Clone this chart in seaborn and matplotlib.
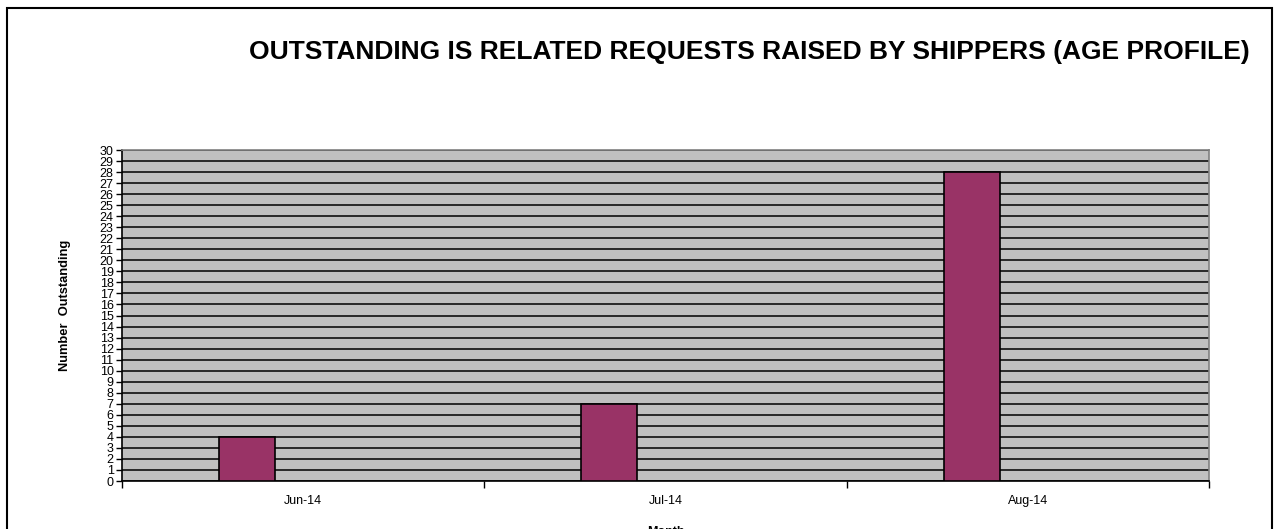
import pandas as pd
import matplotlib
matplotlib.use('Agg')
import matplotlib.pyplot as plt
import seaborn as sns
from matplotlib.patches import Rectangle
from matplotlib.ticker import MultipleLocator, FixedLocator

# data
months = ['Jun-14', 'Jul-14', 'Aug-14']
outstanding = [4, 7, 28]
# excel layout had three series slots per month, only the first one filled
series_names = ['Outstanding', 'Series 2', 'Series 3']
empty = [0, 0, 0]

df = pd.DataFrame({
    'Month': months * 3,
    'Number': outstanding + empty + empty,
    'Series': [series_names[0]] * 3 + [series_names[1]] * 3 + [series_names[2]] * 3,
})

sns.set_style('white')
plt.rcParams['font.family'] = ['Liberation Sans', 'DejaVu Sans']
plt.rcParams['text.color'] = 'black'
plt.rcParams['axes.labelcolor'] = 'black'
plt.rcParams['xtick.color'] = 'black'
plt.rcParams['ytick.color'] = 'black'

fig = plt.figure(figsize=(12.77, 5.29), dpi=100)
ax = fig.add_axes([0.0955, 0.0907, 0.8513, 0.6257])
ax.set_facecolor('#C0C0C0')

sns.barplot(data=df, x='Month', y='Number', hue='Series', ax=ax,
            palette=['#993366', '#C0C0C0', '#C0C0C0'], width=0.465, saturation=1,
            edgecolor='black', linewidth=1.2, legend=False, zorder=3)
# hide the empty slots' outlines
for cont in ax.containers[1:]:
    for bar in cont:
        bar.set_linewidth(0)

ax.set_ylim(0, 30)
ax.set_xlim(-0.5, 2.5)
ax.yaxis.set_major_locator(MultipleLocator(1))
ax.grid(axis='y', color='black', linewidth=1.1, zorder=1)
ax.set_axisbelow(True)

# category ticks sit on the boundaries, labels in the middle
ax.xaxis.set_major_locator(FixedLocator([-0.5, 0.5, 1.5, 2.5]))
ax.set_xticklabels([])
ax.xaxis.set_minor_locator(FixedLocator([0, 1, 2]))
ax.set_xticklabels(months, minor=True)
ax.tick_params(axis='x', which='major', direction='out', length=5, width=1, bottom=True)
ax.tick_params(axis='x', which='minor', length=0, pad=10, labelsize=9)
ax.tick_params(axis='y', direction='out', length=4, width=1, left=True, labelsize=9, pad=2)

for side in ['left', 'bottom']:
    ax.spines[side].set_color('black')
    ax.spines[side].set_linewidth(1.2)
for side in ['top', 'right']:
    ax.spines[side].set_color('#808080')
    ax.spines[side].set_linewidth(1.2)

ax.set_xlabel('Month', fontsize=9, fontweight='bold')
ax.xaxis.set_label_coords(0.5, -0.135)
ax.set_ylabel('Number  Outstanding', fontsize=9.3, fontweight='bold')
ax.yaxis.set_label_coords(-0.047, 0.53)

fig.text(0.587, 0.9017, 'OUTSTANDING IS RELATED REQUESTS RAISED BY SHIPPERS (AGE PROFILE)',
         ha='center', va='center', fontsize=19, fontweight='bold')

# outer chart border
fig.patches.append(Rectangle((7 / 1277, -0.05), 1265 / 1277, 1.05 - 8 / 529,
                             transform=fig.transFigure, fill=False,
                             edgecolor='black', linewidth=1.5))

fig.savefig('out.png', dpi=100)
